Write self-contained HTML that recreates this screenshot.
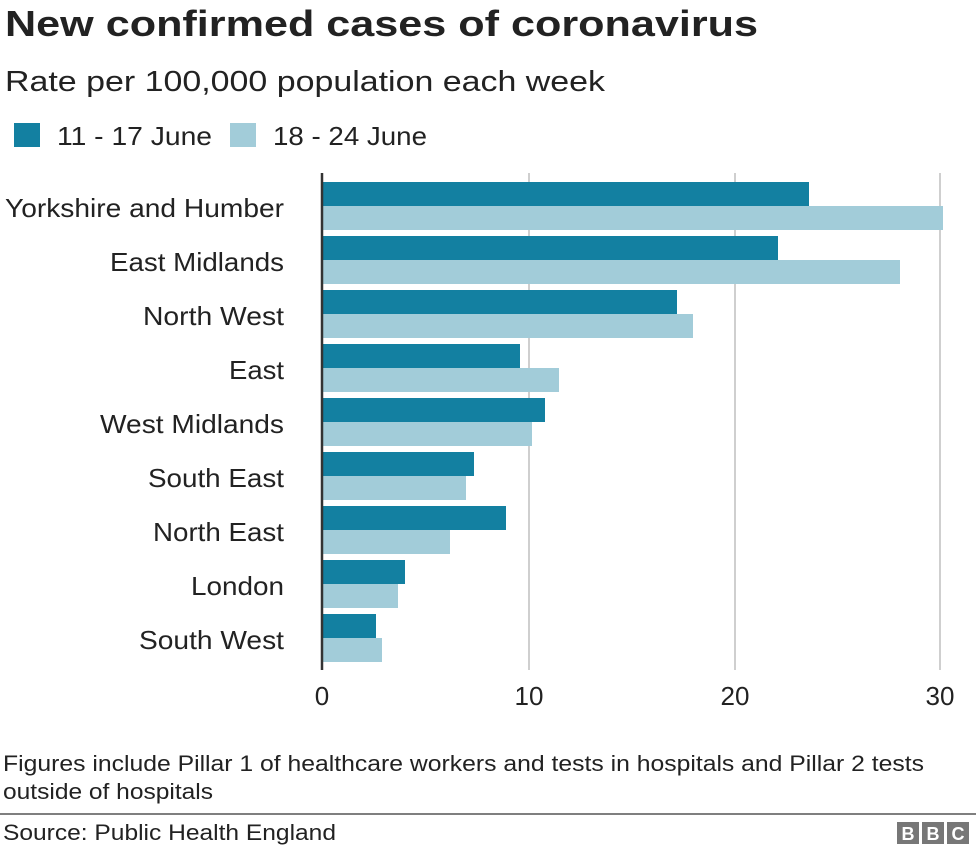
<!DOCTYPE html>
<html><head><style>body{margin:0;background:#fff}svg{display:block}text{font-family:"Liberation Sans",Arial,sans-serif;fill:#222}</style></head>
<body>
<svg width="976" height="845" viewBox="0 0 976 845" xmlns="http://www.w3.org/2000/svg">
<text x="5" y="36" font-size="36" font-weight="bold" textLength="753" lengthAdjust="spacingAndGlyphs">New confirmed cases of coronavirus</text>
<text x="5" y="91" font-size="29" textLength="600" lengthAdjust="spacingAndGlyphs">Rate per 100,000 population each week</text>
<rect x="14" y="123" width="26" height="24" fill="#1380A1"/>
<text x="57" y="145" font-size="26" textLength="155" lengthAdjust="spacingAndGlyphs">11 - 17 June</text>
<rect x="230" y="123" width="26" height="24" fill="#A2CCD9"/>
<text x="273" y="145" font-size="26" textLength="154" lengthAdjust="spacingAndGlyphs">18 - 24 June</text>
<g stroke="#cfcfcf" stroke-width="2">
<line x1="529" y1="173" x2="529" y2="670"/><line x1="735" y1="173" x2="735" y2="670"/><line x1="940" y1="173" x2="940" y2="670"/>
</g>
<g fill="#1380A1">
<rect x="323" y="182" width="486" height="24"/>
<rect x="323" y="236" width="455" height="24"/>
<rect x="323" y="290" width="354" height="24"/>
<rect x="323" y="344" width="197" height="24"/>
<rect x="323" y="398" width="222" height="24"/>
<rect x="323" y="452" width="151" height="24"/>
<rect x="323" y="506" width="183" height="24"/>
<rect x="323" y="560" width="82" height="24"/>
<rect x="323" y="614" width="53" height="24"/>
</g>
<g fill="#A2CCD9">
<rect x="323" y="206" width="620" height="24"/>
<rect x="323" y="260" width="577" height="24"/>
<rect x="323" y="314" width="370" height="24"/>
<rect x="323" y="368" width="236" height="24"/>
<rect x="323" y="422" width="209" height="24"/>
<rect x="323" y="476" width="143" height="24"/>
<rect x="323" y="530" width="127" height="24"/>
<rect x="323" y="584" width="75" height="24"/>
<rect x="323" y="638" width="59" height="24"/>
</g>
<line x1="322" y1="173" x2="322" y2="670" stroke="#333" stroke-width="2.5"/>
<g font-size="26" text-anchor="end" lengthAdjust="spacingAndGlyphs">
<text x="284" y="217" textLength="279" lengthAdjust="spacingAndGlyphs">Yorkshire and Humber</text>
<text x="284" y="271" textLength="174" lengthAdjust="spacingAndGlyphs">East Midlands</text>
<text x="284" y="325" textLength="141" lengthAdjust="spacingAndGlyphs">North West</text>
<text x="284" y="379" textLength="55" lengthAdjust="spacingAndGlyphs">East</text>
<text x="284" y="433" textLength="184" lengthAdjust="spacingAndGlyphs">West Midlands</text>
<text x="284" y="487" textLength="136" lengthAdjust="spacingAndGlyphs">South East</text>
<text x="284" y="541" textLength="131" lengthAdjust="spacingAndGlyphs">North East</text>
<text x="284" y="595" textLength="93" lengthAdjust="spacingAndGlyphs">London</text>
<text x="284" y="649" textLength="145" lengthAdjust="spacingAndGlyphs">South West</text>
</g>
<g font-size="26" text-anchor="middle">
<text x="322" y="705">0</text><text x="529" y="705">10</text><text x="735" y="705">20</text><text x="940" y="705">30</text>
</g>
<text x="3" y="771" font-size="22" textLength="921" lengthAdjust="spacingAndGlyphs">Figures include Pillar 1 of healthcare workers and tests in hospitals and Pillar 2 tests</text>
<text x="3" y="799" font-size="22" textLength="210" lengthAdjust="spacingAndGlyphs">outside of hospitals</text>
<line x1="0" y1="814" x2="976" y2="814" stroke="#555" stroke-width="1.5"/>
<text x="3" y="840" font-size="22" textLength="333" lengthAdjust="spacingAndGlyphs">Source: Public Health England</text>
<g>
<rect x="897" y="822" width="22" height="22" fill="#777"/><rect x="922" y="822" width="22" height="22" fill="#777"/><rect x="947" y="822" width="22" height="22" fill="#777"/>
<text x="908" y="840" font-size="18" font-weight="bold" text-anchor="middle" style="fill:#fff">B</text>
<text x="933" y="840" font-size="18" font-weight="bold" text-anchor="middle" style="fill:#fff">B</text>
<text x="958" y="840" font-size="18" font-weight="bold" text-anchor="middle" style="fill:#fff">C</text>
</g>
</svg>
</body></html>
